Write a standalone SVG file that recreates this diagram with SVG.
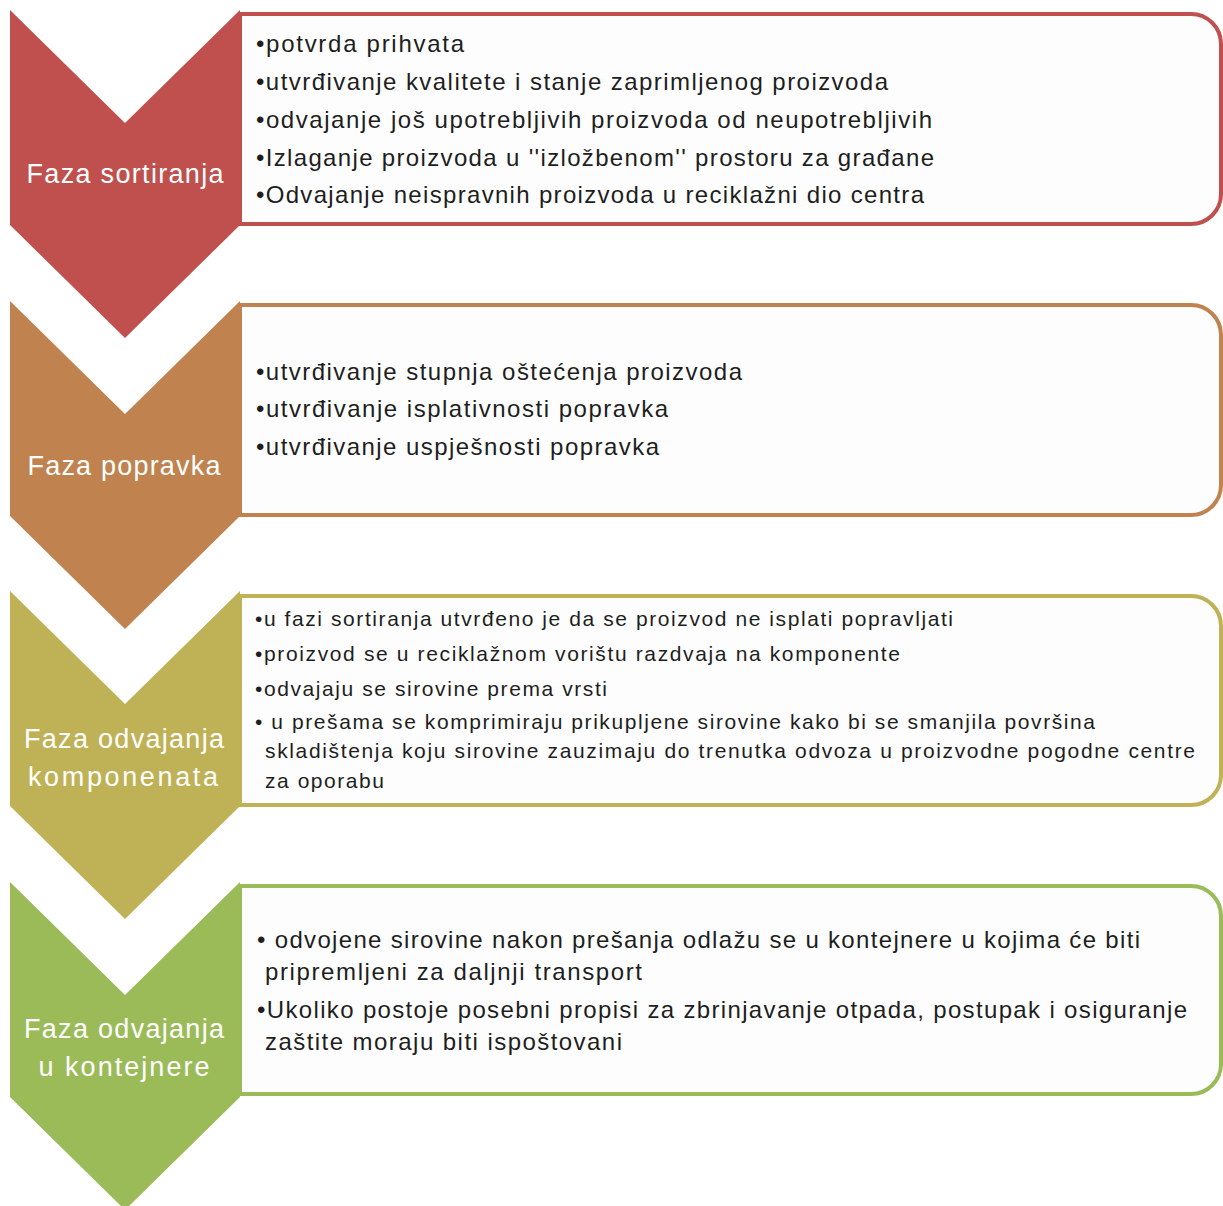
<svg xmlns="http://www.w3.org/2000/svg" width="1223" height="1206" viewBox="0 0 1223 1206">
<style>
.box{fill:#fdfdfd;stroke-width:4}
.lbl{font-family:"Liberation Sans",Arial,sans-serif;font-size:27px;fill:#ffffff;text-anchor:middle}
.t{font-family:"Liberation Sans",Arial,sans-serif;font-size:24px;fill:#1e1e1e}
.s{font-family:"Liberation Sans",Arial,sans-serif;font-size:21px;fill:#1e1e1e}
</style>
<rect width="1223" height="1206" fill="#ffffff"/>
<g id="box1">
<path class="box" stroke="#C0504D" d="M240,14 H1191 A30,30 0 0 1 1221,44 V194 A30,30 0 0 1 1191,224 H240 Z"/>
<text class="t" x="256" y="52" textLength="208">•potvrda prihvata</text>
<text class="t" x="256" y="90" textLength="632">•utvrđivanje kvalitete i stanje zaprimljenog proizvoda</text>
<text class="t" x="256" y="128" textLength="676">•odvajanje još upotrebljivih proizvoda od neupotrebljivih</text>
<text class="t" x="256" y="166" textLength="678">•Izlaganje proizvoda u ''izložbenom'' prostoru za građane</text>
<text class="t" x="256" y="203" textLength="668">•Odvajanje neispravnih proizvoda u reciklažni dio centra</text>
</g>
<g id="phase1">
<polygon fill="#C0504D" points="10,10 125,123 240,10 240,225 125,338 10,225"/>
<text class="lbl" x="125" y="183" textLength="197">Faza sortiranja</text>
</g>
<g id="box2">
<path class="box" stroke="#C0834F" d="M240,305 H1191 A30,30 0 0 1 1221,335 V485 A30,30 0 0 1 1191,515 H240 Z"/>
<text class="t" x="256" y="380" textLength="486">•utvrđivanje stupnja oštećenja proizvoda</text>
<text class="t" x="256" y="417" textLength="412">•utvrđivanje isplativnosti popravka</text>
<text class="t" x="256" y="455" textLength="403">•utvrđivanje uspješnosti popravka</text>
</g>
<g id="phase2">
<polygon fill="#C0834F" points="10,301 125,414 240,301 240,516 125,629 10,516"/>
<text class="lbl" x="124" y="475" textLength="193">Faza popravka</text>
</g>
<g id="box3">
<path class="box" stroke="#BFB156" d="M240,596 H1191 A30,30 0 0 1 1221,626 V775 A30,30 0 0 1 1191,805 H240 Z"/>
<text class="s" x="255" y="626" textLength="698">•u fazi sortiranja utvrđeno je da se proizvod ne isplati popravljati</text>
<text class="s" x="255" y="661" textLength="645">•proizvod se u reciklažnom vorištu razdvaja na komponente</text>
<text class="s" x="255" y="696" textLength="352">•odvajaju se sirovine prema vrsti</text>
<text class="s" x="255" y="729" textLength="840">• u prešama se komprimiraju prikupljene sirovine kako bi se smanjila površina</text>
<text class="s" x="265" y="758" textLength="930">skladištenja koju sirovine zauzimaju do trenutka odvoza u proizvodne pogodne  centre</text>
<text class="s" x="265" y="788" textLength="119">za oporabu</text>
</g>
<g id="phase3">
<polygon fill="#BFB156" points="10,591 125,704 240,591 240,806 125,919 10,806"/>
<text class="lbl" x="124" y="748" textLength="200">Faza odvajanja</text>
<text class="lbl" x="123" y="786" textLength="190">komponenata</text>
</g>
<g id="box4">
<path class="box" stroke="#9BBB59" d="M240,886 H1191 A30,30 0 0 1 1221,916 V1064 A30,30 0 0 1 1191,1094 H240 Z"/>
<text class="t" x="257" y="948" textLength="883">• odvojene sirovine nakon prešanja odlažu se u kontejnere u kojima će biti</text>
<text class="t" x="265" y="980" textLength="377">pripremljeni za daljnji transport</text>
<text class="t" x="257" y="1018" textLength="930">•Ukoliko postoje posebni propisi za zbrinjavanje otpada, postupak i osiguranje</text>
<text class="t" x="265" y="1050" textLength="357">zaštite moraju biti ispoštovani</text>
</g>
<g id="phase4">
<polygon fill="#9BBB59" points="10,882 125,995 240,882 240,1097 125,1210 10,1097"/>
<text class="lbl" x="124" y="1038" textLength="200">Faza odvajanja</text>
<text class="lbl" x="124" y="1076" textLength="171">u kontejnere</text>
</g>
</svg>
